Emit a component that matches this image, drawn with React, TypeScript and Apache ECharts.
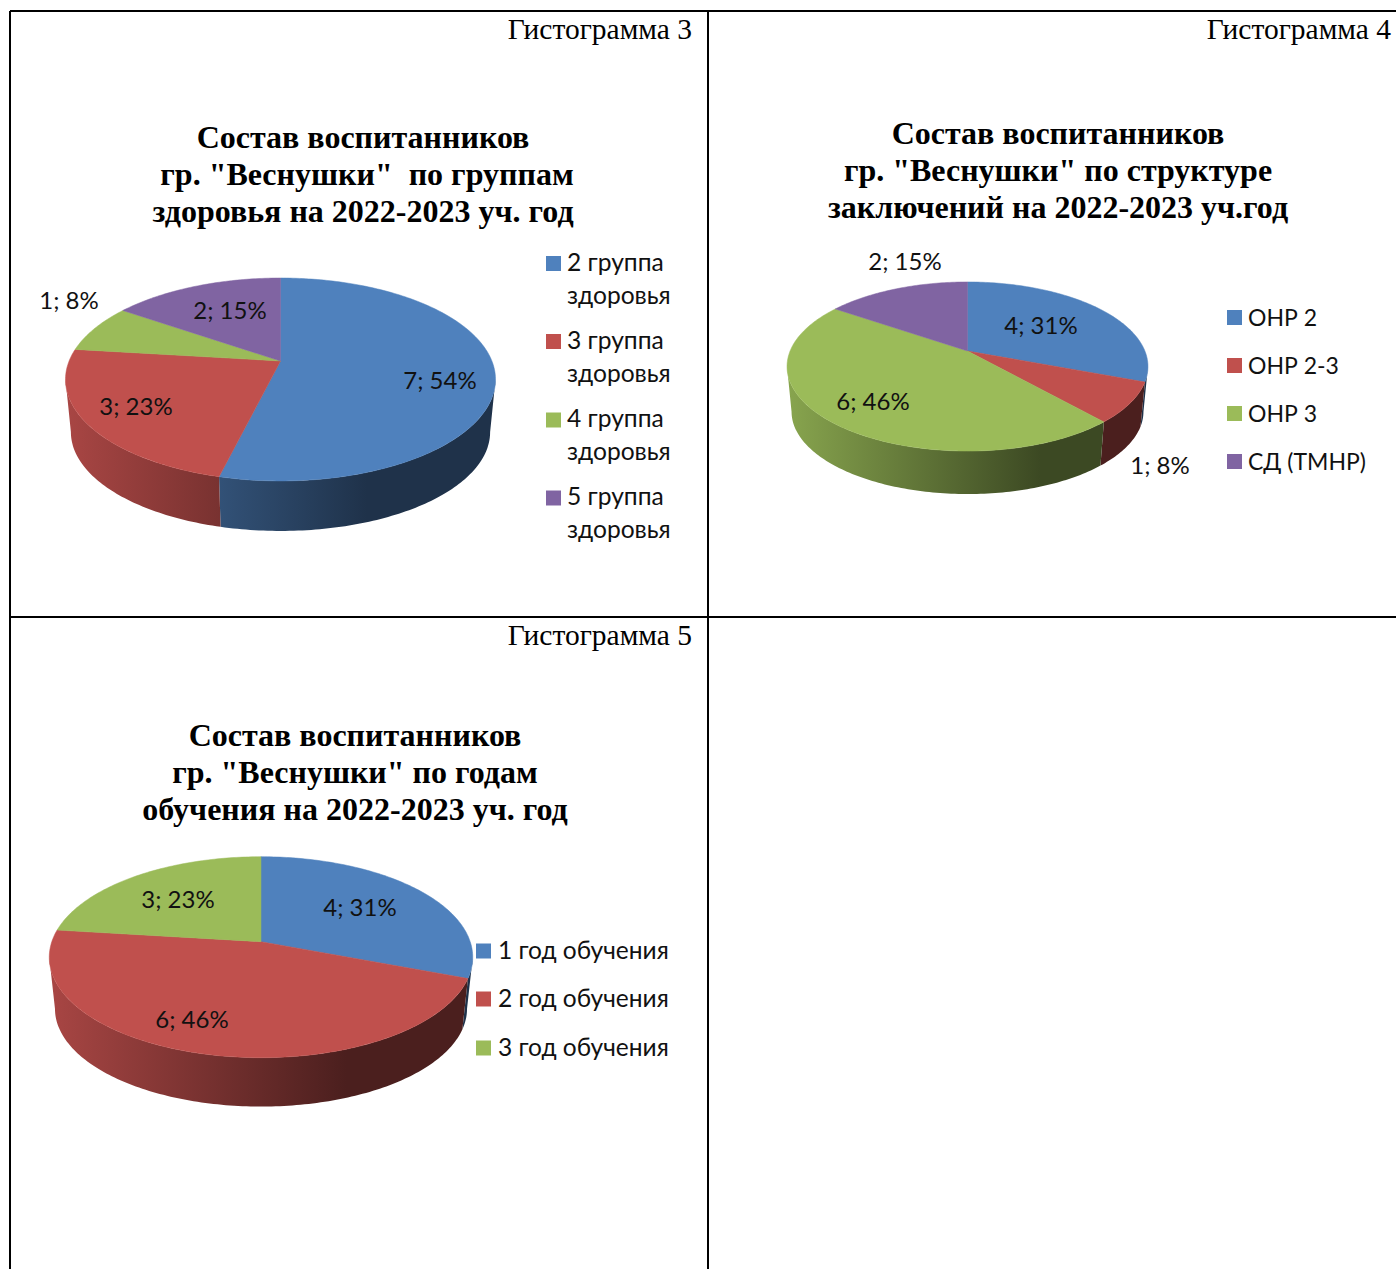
import React, { useEffect, useRef } from "react";
import * as echarts from "echarts";

const SERIF = "'Liberation Serif', serif";
const SANS = "Lato, 'Noto Sans', sans-serif";

const blue = "#4f81bd";
const red = "#c0504d";
const green = "#9bbb59";
const purple = "#8064a2";

const captions = ["Гистограмма 3", "Гистограмма 4", "Гистограмма 5"];

const titleA = 'Состав воспитанников\n гр. "Веснушки"  по группам\nздоровья на 2022-2023 уч. год';
const titleB = 'Состав воспитанников\nгр. "Веснушки" по структуре\nзаключений на 2022-2023 уч.год';
const titleC = 'Состав воспитанников\nгр. "Веснушки" по годам\nобучения на 2022-2023 уч. год';

const namesA = ["2 группа\nздоровья", "3 группа\nздоровья", "4 группа\nздоровья", "5 группа\nздоровья"];
const valuesA = [7, 3, 1, 2];
const percentA = [54, 23, 8, 15];

const namesB = ["ОНР 2", "ОНР 2-3", "ОНР 3", "СД (ТМНР)"];
const valuesB = [4, 1, 6, 2];
const percentB = [31, 8, 46, 15];

const namesC = ["1 год обучения", "2 год обучения", "3 год обучения"];
const valuesC = [4, 6, 3];
const percentC = [31, 46, 23];

const colorsA = [blue, red, green, purple];

// geometry of the drawn 3D discs (apex, radius, perspective, wall)
const pies = [
  {
    names: namesA, values: valuesA, percent: percentA,
    cx: 280.5, cy: 361, R: 211.4, Rc: 98.1, f: 5.49, depth: 53, k: 0.975,
    labels: [[440, 381], [136, 407], [69, 301], [230, 311]],
    legendX: 546, legendY: [263.5, 341.5, 420, 498], legendFont: 24.6, legendTextX: 21, legendTextDy: -2.5,
  },
  {
    names: namesB, values: valuesB, percent: percentB,
    cx: 967.5, cy: 351, R: 177.4, Rc: 81.7, f: 5.45, depth: 45.5, k: 0.975,
    labels: [[1041, 326], [1160, 466], [873, 402], [905, 262]],
    legendX: 1227, legendY: [317.5, 365.5, 413.5, 461.5], legendFont: 23, legendTextX: 21, legendTextDy: -1,
  },
  {
    names: namesC, values: valuesC, percent: percentC,
    cx: 261, cy: 941.7, R: 209.2, Rc: 98.1, f: 6.48, depth: 52, k: 0.973,
    labels: [[360, 908], [192, 1020], [178, 900]],
    legendX: 476, legendY: [951, 999, 1048], legendFont: 24.5, legendTextX: 22, legendTextDy: -2,
  },
];

function shade(hex: string, m: number) {
  const n = parseInt(hex.slice(1), 16);
  const c = [(n >> 16) & 255, (n >> 8) & 255, n & 255].map((x) => Math.round(x * m));
  return `rgb(${c[0]},${c[1]},${c[2]})`;
}

function pieSeries(p: (typeof pies)[number]) {
  const total = p.values.reduce((a, b) => a + b, 0);
  const starts: number[] = [];
  let acc = 0;
  p.values.forEach((v) => {
    starts.push((acc / total) * Math.PI * 2);
    acc += v;
  });
  const project = (t: number, level: number) => {
    const u = Math.sin(t);
    const v = Math.cos(t);
    const w = (p.f / (p.f + v)) * (level ? p.k : 1);
    return [p.cx + p.R * u * w, p.cy + p.depth * level - p.Rc * v * w];
  };
  const arc = (a: number, b: number, level: number) => {
    const n = Math.max(2, Math.ceil(((b - a) * 180) / Math.PI));
    const out: number[][] = [];
    for (let i = 0; i <= n; i++) out.push(project(a + ((b - a) * i) / n, level));
    return out;
  };
  const delta = Math.asin(1 / p.f);
  const frontA = Math.PI / 2 + delta;
  const frontB = (Math.PI * 3) / 2 - delta;
  const x0 = p.cx - p.R * 1.02;
  const x1 = p.cx + p.R * 1.02;
  return {
    type: "custom",
    coordinateSystem: "none",
    silent: true,
    data: p.values,
    renderItem: (params: any, api: any) => {
      const i = params.dataIndex;
      const val = api.value(0);
      const a = starts[i];
      const b = a + (val / total) * Math.PI * 2;
      const color = colorsA[i];
      const children: any[] = [];
      const wa = Math.max(a, frontA);
      const wb = Math.min(b, frontB);
      if (wb > wa) {
        const grad = new echarts.graphic.LinearGradient(
          x0, 0, x1, 0,
          [
            { offset: 0, color: shade(color, 0.88) },
            { offset: 0.7, color: shade(color, 0.39) },
            { offset: 1, color: shade(color, 0.39) },
          ],
          true,
        );
        children.push({
          type: "polygon",
          z2: 1,
          shape: { points: [...arc(wa, wb, 0), ...arc(wa, wb, 1).reverse()] },
          style: { fill: grad },
        });
      }
      children.push({
        type: "polygon",
        z2: 2,
        shape: { points: [[p.cx, p.cy], ...arc(a, b, 0)] },
        style: { fill: color, stroke: color, lineWidth: 0.5 },
      });
      children.push({
        type: "text",
        z2: 5,
        style: {
          text: `${val}; ${p.percent[i]}%`,
          x: p.labels[i][0],
          y: p.labels[i][1] - 2,
          align: "center",
          verticalAlign: "middle",
          font: `24px ${SANS}`,
          fill: "#111",
        },
      });
      return { type: "group", children };
    },
  };
}

function legendElements(p: (typeof pies)[number]) {
  const out: any[] = [];
  p.names.forEach((name, i) => {
    out.push({
      type: "rect",
      shape: { x: p.legendX, y: p.legendY[i] - 7.5, width: 15, height: 15 },
      style: { fill: colorsA[i] },
    });
    name.split("\n").forEach((line, j) => {
      out.push({
        type: "text",
        x: p.legendX + p.legendTextX,
        y: p.legendY[i] + p.legendTextDy + j * 33,
        style: { text: line, font: `${p.legendFont}px ${SANS}`, fill: "#111", verticalAlign: "middle", align: "left" },
      });
    });
  });
  return out;
}

const rules = [
  [10, 11, 10, 1269],
  [708, 11, 708, 1269],
  [10, 11, 1396, 11],
  [10, 617, 1396, 617],
];

const captionPlaces = [
  [692, 29],
  [1391, 29],
  [692, 635],
];

export default function App() {
  const ref = useRef<HTMLDivElement>(null);
  useEffect(() => {
    if (!ref.current) return;
    const chart = echarts.init(ref.current, undefined, { renderer: "svg" });
    const titleStyle = { fontFamily: SERIF, fontSize: 32, fontWeight: "bold", lineHeight: 36.6, color: "#000" };
    chart.setOption({
      animation: false,
      backgroundColor: "#fff",
      title: [
        { text: titleA, left: 363, top: 119, textAlign: "center", padding: 0, textStyle: titleStyle },
        { text: titleB, left: 1058, top: 115, textAlign: "center", padding: 0, textStyle: titleStyle },
        { text: titleC, left: 355, top: 717, textAlign: "center", padding: 0, textStyle: titleStyle },
      ],
      graphic: {
        elements: [
          ...rules.map((r) => ({
            type: "line",
            shape: { x1: r[0], y1: r[1], x2: r[2], y2: r[3] },
            style: { stroke: "#000", lineWidth: 2 },
          })),
          ...captions.map((c, i) => ({
            type: "text",
            x: captionPlaces[i][0],
            y: captionPlaces[i][1],
            style: { text: c, font: `29.5px ${SERIF}`, fill: "#000", align: "right", verticalAlign: "middle" },
          })),
          ...pies.flatMap(legendElements),
        ],
      },
      series: pies.map(pieSeries),
    });
    return () => chart.dispose();
  }, []);
  return (
    <div
      ref={ref}
      style={{ position: "absolute", left: 0, top: 0, width: 1396, height: 1269, background: "#fff" }}
    />
  );
}
